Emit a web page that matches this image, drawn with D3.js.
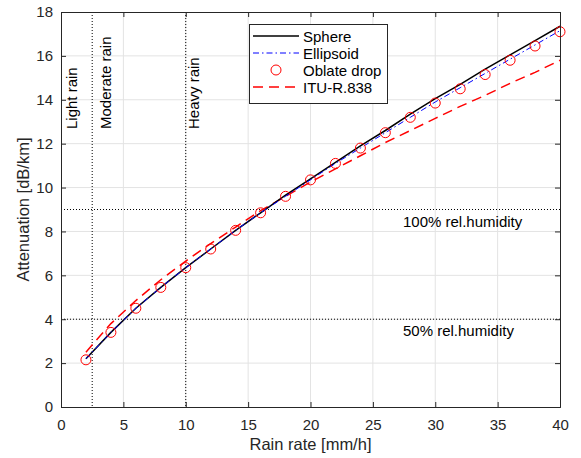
<!DOCTYPE html>
<html lang="en">
<head>
<meta charset="UTF-8">
<title>Rain attenuation</title>
<script src="https://d3js.org/d3.v7.min.js"></script>
<style>
    body, html { margin: 0; padding: 0; background: #fff; overflow: hidden; }
    svg text { font-family: "Liberation Sans", Arial, sans-serif; fill: #262626; }
</style>
</head>
<body>
<svg id="chart" width="581" height="458"></svg>
<script>
    // data
    const rainRate = [2, 4, 6, 8, 10, 12, 14, 16, 18, 20, 22, 24, 26, 28, 30, 32, 34, 36, 38, 40];
    const sphere = [2.2, 3.4, 4.5, 5.45, 6.35, 7.2, 8.05, 8.85, 9.65, 10.4, 11.15, 11.9, 12.6, 13.35, 14.05, 14.7, 15.4, 16.05, 16.7, 17.35];
    const ellipsoid = [2.2, 3.4, 4.5, 5.45, 6.35, 7.2, 8.05, 8.85, 9.6, 10.35, 11.1, 11.8, 12.5, 13.2, 13.9, 14.55, 15.2, 15.85, 16.5, 17.15];
    const oblate = [2.15, 3.4, 4.5, 5.45, 6.35, 7.2, 8.05, 8.85, 9.6, 10.35, 11.1, 11.8, 12.5, 13.2, 13.85, 14.5, 15.15, 15.8, 16.45, 17.1];
    const itu = [2.5, 3.8, 4.85, 5.8, 6.65, 7.45, 8.2, 8.95, 9.6, 10.25, 10.85, 11.45, 12.05, 12.6, 13.15, 13.7, 14.2, 14.75, 15.25, 15.8];

    const xTicks = [0, 5, 10, 15, 20, 25, 30, 35, 40];
    const yTicks = [0, 2, 4, 6, 8, 10, 12, 14, 16, 18];
    const rainBounds = [2.5, 10];
    const rainLabels = [
        { x: 1.3, text: "Light rain" },
        { x: 4.0, text: "Moderate rain" },
        { x: 11.1, text: "Heavy rain" }
    ];
    const humidity = [
        { y: 9, text: "100% rel.humidity" },
        { y: 4, text: "50% rel.humidity" }
    ];

    const svg = d3.select("#chart");
    const mL = 61, mR = 560, mT = 12, mB = 407;

    const x = d3.scaleLinear().domain([0, 40]).range([mL, mR]);
    const y = d3.scaleLinear().domain([0, 18]).range([mB, mT]);

    // grid
    const grid = svg.append("g");
    grid.selectAll(".gx").data(xTicks.slice(1, -1)).enter().append("line")
        .attr("x1", d => x(d)).attr("x2", d => x(d))
        .attr("y1", mT).attr("y2", mB)
        .attr("stroke", "#e3e3e3").attr("stroke-width", 1);
    grid.selectAll(".gy").data(yTicks.slice(1, -1)).enter().append("line")
        .attr("x1", mL).attr("x2", mR)
        .attr("y1", d => y(d)).attr("y2", d => y(d))
        .attr("stroke", "#e3e3e3").attr("stroke-width", 1);

    // reference lines
    svg.selectAll(".vref").data(rainBounds).enter().append("line")
        .attr("x1", d => x(d)).attr("x2", d => x(d))
        .attr("y1", mT).attr("y2", mB)
        .attr("stroke", "#000").attr("stroke-width", 1).attr("stroke-dasharray", "1,2");
    svg.selectAll(".href").data(humidity).enter().append("line")
        .attr("x1", mL).attr("x2", mR)
        .attr("y1", d => y(d.y)).attr("y2", d => y(d.y))
        .attr("stroke", "#000").attr("stroke-width", 1).attr("stroke-dasharray", "1,2");

    svg.selectAll(".rainlab").data(rainLabels).enter().append("text")
        .attr("transform", d => `translate(${x(d.x)},129) rotate(-90)`)
        .attr("font-size", 15).style("fill", "#000")
        .text(d => d.text);

    svg.selectAll(".humlab").data(humidity).enter().append("text")
        .attr("x", 403).attr("y", d => y(d.y) + 17)
        .attr("font-size", 15).style("fill", "#000")
        .text(d => d.text);

    // series
    const line = arr => d3.line().x((d, i) => x(rainRate[i])).y(d => y(d))(arr);

    svg.append("path").attr("d", line(itu))
        .attr("fill", "none").attr("stroke", "#ff0000").attr("stroke-width", 1.5)
        .attr("stroke-dasharray", "10,6");
    svg.append("path").attr("d", line(sphere))
        .attr("fill", "none").attr("stroke", "#000").attr("stroke-width", 1.5);
    svg.append("path").attr("d", line(ellipsoid))
        .attr("fill", "none").attr("stroke", "#0000ff").attr("stroke-width", 1)
        .attr("stroke-dasharray", "6,3,1.5,3");
    svg.selectAll(".pt").data(oblate).enter().append("circle")
        .attr("cx", (d, i) => x(rainRate[i])).attr("cy", d => y(d))
        .attr("r", 5).attr("fill", "none").attr("stroke", "#ff0000").attr("stroke-width", 1);

    // axes
    const tickLen = 5;
    const font = "Liberation Sans, Arial, sans-serif";
    svg.append("g").attr("transform", `translate(0,${mB})`)
        .call(d3.axisBottom(x).tickValues(xTicks).tickSize(-tickLen).tickPadding(12))
        .call(g => g.selectAll("text").attr("font-size", 15).attr("font-family", font).style("fill", "#262626"));
    svg.append("g").attr("transform", `translate(${mL},0)`)
        .call(d3.axisLeft(y).tickValues(yTicks).tickSize(-tickLen).tickPadding(8))
        .call(g => g.selectAll("text").attr("font-size", 15).attr("font-family", font).style("fill", "#262626"));
    svg.append("g").attr("transform", `translate(0,${mT})`)
        .call(d3.axisTop(x).tickValues(xTicks).tickSize(-tickLen).tickFormat(""));
    svg.append("g").attr("transform", `translate(${mR},0)`)
        .call(d3.axisRight(y).tickValues(yTicks).tickSize(-tickLen).tickFormat(""));
    svg.selectAll(".domain, .tick line").attr("stroke", "#262626");

    // axis labels
    svg.append("text").attr("x", (mL + mR) / 2).attr("y", 450)
        .attr("text-anchor", "middle").attr("font-size", 16.5).text("Rain rate [mm/h]");
    svg.append("text").attr("transform", `translate(29,${(mT + mB) / 2}) rotate(-90)`)
        .attr("text-anchor", "middle").attr("font-size", 16.5).text("Attenuation [dB/km]");

    // legend
    const legendItems = [
        { name: "Sphere", color: "#000", dash: null, width: 1.5, marker: false },
        { name: "Ellipsoid", color: "#0000ff", dash: "6,3,1.5,3", width: 1, marker: false },
        { name: "Oblate drop", color: "#ff0000", dash: null, width: 1, marker: true },
        { name: "ITU-R.838", color: "#ff0000", dash: "10,6", width: 1.5, marker: false }
    ];
    const lg = svg.append("g");
    lg.append("rect").attr("x", 249.5).attr("y", 24.5).attr("width", 138).attr("height", 79)
        .attr("fill", "#fff").attr("stroke", "#262626").attr("stroke-width", 1);
    const rows = lg.selectAll(".lrow").data(legendItems).enter().append("g")
        .attr("transform", (d, i) => `translate(0,${36 + i * 17})`);
    rows.filter(d => !d.marker).append("line")
        .attr("x1", 253).attr("x2", 299).attr("y1", 0).attr("y2", 0)
        .attr("stroke", d => d.color).attr("stroke-width", d => d.width)
        .attr("stroke-dasharray", d => d.dash);
    rows.filter(d => d.marker).append("circle")
        .attr("cx", 276).attr("cy", 0).attr("r", 5)
        .attr("fill", "none").attr("stroke", d => d.color);
    rows.append("text").attr("x", 303).attr("y", 5.5).attr("font-size", 15)
        .style("fill", "#000").text(d => d.name);
</script>
</body>
</html>
